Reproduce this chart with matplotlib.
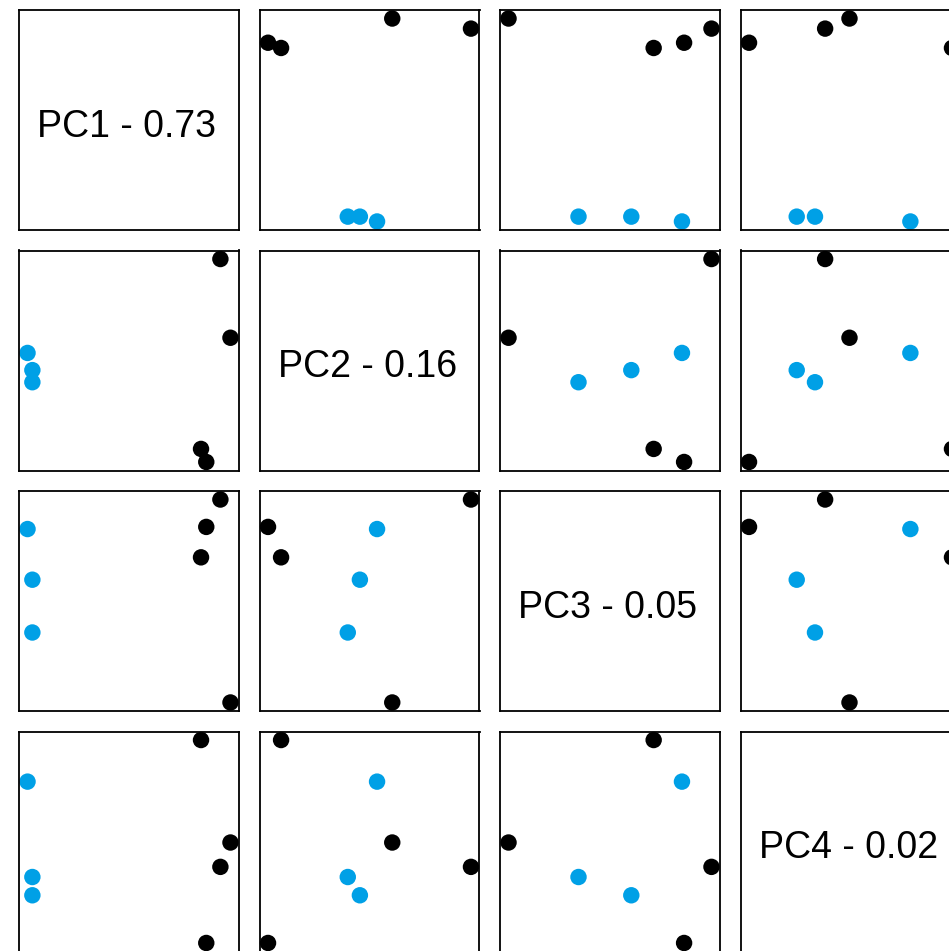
import matplotlib.pyplot as plt
import numpy as np

# PCA scores (7 samples)
pc1 = np.array([-2.50, -2.38, -2.38, 2.28, 2.53, 1.80, 1.93])
pc2 = np.array([0.094, -0.106, -0.247, 1.188, 0.271, -1.024, -1.176])
pc3 = np.array([0.473, 0.140, -0.207, 0.667, -0.667, 0.287, 0.487])
pc4 = np.array([0.236, -0.212, -0.140, -0.100, -0.004, 0.400, -0.400])
group = np.array([1, 1, 1, 0, 0, 0, 0])

pc_names = ['PC1', 'PC2', 'PC3', 'PC4']
var_ratio = [0.73, 0.16, 0.05, 0.02]
colors = ['black', '#00A0E6']

scores = [pc1, pc2, pc3, pc4]
point_colors = [colors[g] for g in group]

plt.rcParams['font.family'] = ['Liberation Sans', 'DejaVu Sans']

# Figure in pixels
W, H = 949, 951
fig = plt.figure(figsize=(W / 100, H / 100), dpi=100)

# Panel layout (pixels)
left0, top0 = 19, 10
size = 220
step = 240.5

for i in range(4):
    for j in range(4):
        x0 = left0 + j * step
        y0 = top0 + i * step
        ax = fig.add_axes([x0 / W, 1 - (y0 + size) / H, size / W, size / H])
        ax.set_xticks([])
        ax.set_yticks([])
        for s in ax.spines.values():
            s.set_linewidth(1.3)
            s.set_color('black')
        if i == j:
            # diagonal: name and explained variance
            ax.set_xlim(0, 1)
            ax.set_ylim(0, 1)
            ax.text(0.49, 0.47, f'{pc_names[i]} - {var_ratio[i]:.2f}',
                    ha='center', va='center', fontsize=27)
        else:
            ax.scatter(scores[j], scores[i], c=point_colors, s=140,
                       linewidths=0, clip_on=False)
            ax.margins(0.042)

plt.savefig('out.png', dpi=100)
